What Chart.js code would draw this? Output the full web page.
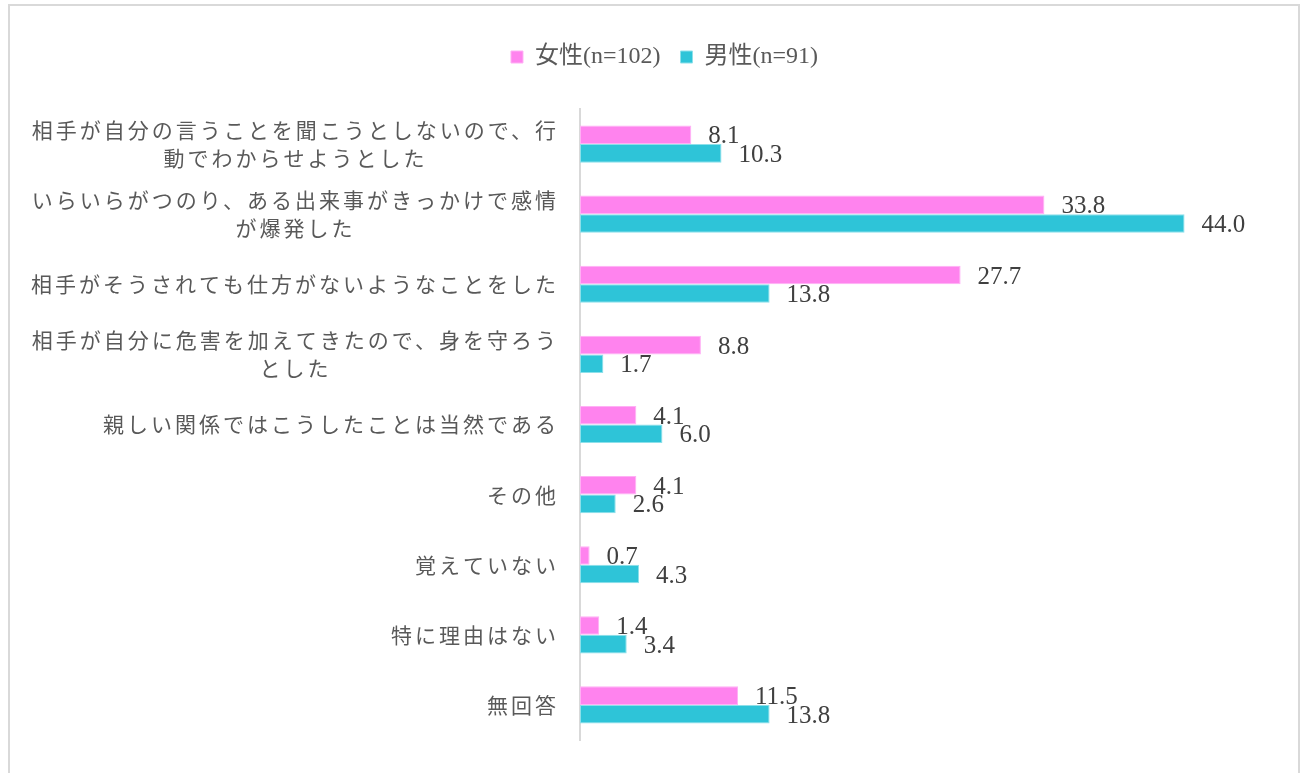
<!DOCTYPE html>
<html lang="ja">
<head>
<meta charset="utf-8">
<script src="https://cdn.jsdelivr.net/npm/chart.js@4"></script>
<style>
    html, body { margin: 0; padding: 0; background: #ffffff; overflow: hidden; }
    #wrap { width: 1301px; height: 773px; }
</style>
</head>
<body>
<div id="wrap"><canvas id="barchart" width="1301" height="773"></canvas></div>
<script>
// 項目（折り返し位置ごとに行を分ける）
var categories = [
    ['相手が自分の言うことを聞こうとしないので、行', '動でわからせようとした'],
    ['いらいらがつのり、ある出来事がきっかけで感情', 'が爆発した'],
    ['相手がそうされても仕方がないようなことをした'],
    ['相手が自分に危害を加えてきたので、身を守ろう', 'とした'],
    ['親しい関係ではこうしたことは当然である'],
    ['その他'],
    ['覚えていない'],
    ['特に理由はない'],
    ['無回答']
];
var seriesNames = ['女性(n=102)', '男性(n=91)'];
var femaleValues = [8.1, 33.8, 27.7, 8.8, 4.1, 4.1, 0.7, 1.4, 11.5];
var maleValues = [10.3, 44.0, 13.8, 1.7, 6.0, 2.6, 4.3, 3.4, 13.8];

var labelFont = '"Noto Sans CJK JP", "Noto Sans CJK SC", sans-serif';
var numFont = '"Liberation Serif", "DejaVu Serif", "Noto Sans CJK JP", serif';

// 外枠
var framePlugin = {
    id: 'frame',
    beforeDraw: function (chart) {
        var ctx = chart.ctx;
        ctx.save();
        ctx.fillStyle = '#ffffff';
        ctx.fillRect(0, 0, chart.width, chart.height);
        ctx.strokeStyle = '#d9d9d9';
        ctx.lineWidth = 2;
        ctx.strokeRect(9, 5, 1290, 820);
        ctx.restore();
    }
};

// 凡例の下に余白を足す
var legendGapPlugin = {
    id: 'legendGap',
    beforeInit: function (chart) {
        var fit = chart.legend.fit;
        chart.legend.fit = function () {
            fit.call(this);
            this.height += 30;
        };
    }
};

// 項目名（複数行は中央揃え、まとまりは軸の左に右寄せ）
var categoryLabelPlugin = {
    id: 'categoryLabels',
    afterDraw: function (chart) {
        var ctx = chart.ctx;
        var yScale = chart.scales.y;
        var spacing = 3;
        ctx.save();
        ctx.font = '21px ' + labelFont;
        ctx.letterSpacing = spacing + 'px';
        ctx.fillStyle = '#595959';
        ctx.textAlign = 'left';
        ctx.textBaseline = 'middle';
        chart.data.labels.forEach(function (lines, i) {
            var yc = yScale.getPixelForTick(i);
            var widths = lines.map(function (l) { return ctx.measureText(l).width - spacing; });
            var maxW = Math.max.apply(null, widths);
            var cx = chart.chartArea.left - 24 - maxW / 2;
            lines.forEach(function (l, j) {
                var y = yc + (j - (lines.length - 1) / 2) * 28;
                ctx.fillText(l, cx - widths[j] / 2, y);
            });
        });
        ctx.restore();
    }
};

// 棒の右に数値
var valueLabelPlugin = {
    id: 'valueLabels',
    afterDatasetsDraw: function (chart) {
        var ctx = chart.ctx;
        ctx.save();
        ctx.font = '25px ' + numFont;
        ctx.fillStyle = '#404040';
        ctx.textAlign = 'left';
        ctx.textBaseline = 'middle';
        chart.data.datasets.forEach(function (ds, di) {
            var meta = chart.getDatasetMeta(di);
            meta.data.forEach(function (bar, i) {
                ctx.fillText(ds.data[i].toFixed(1), bar.x + 17, bar.y + 2);
            });
        });
        ctx.restore();
    }
};

function initBarChart() {
    var canvas = document.getElementById('barchart');
    var barCtx = canvas.getContext('2d');

    var barChartConfig = {
        type: 'bar',
        data: {
            labels: categories,
            datasets: [{
                label: seriesNames[0],
                data: femaleValues,
                backgroundColor: '#ff83ee',
                borderColor: '#ffb0f5',
                borderWidth: 1,
                borderSkipped: false,
                barPercentage: 1,
                categoryPercentage: 0.53
            }, {
                label: seriesNames[1],
                data: maleValues,
                backgroundColor: '#2ec4d8',
                borderColor: '#8de0ea',
                borderWidth: 1,
                borderSkipped: false,
                barPercentage: 1,
                categoryPercentage: 0.53
            }]
        },
        options: {
            indexAxis: 'y',
            responsive: false,
            animation: false,
            layout: {
                padding: { top: 25, right: 34, bottom: 33, left: 62 }
            },
            plugins: {
                legend: {
                    position: 'top',
                    labels: {
                        boxWidth: 12,
                        boxHeight: 12,
                        padding: 20,
                        color: '#595959',
                        font: { family: numFont, size: 24 }
                    }
                },
                tooltip: { enabled: false }
            },
            scales: {
                x: {
                    display: false,
                    min: 0,
                    max: 50
                },
                y: {
                    afterFit: function (scale) { scale.width = 518; },
                    grid: { display: false },
                    border: { display: true, color: '#d9d9d9', width: 2 },
                    ticks: { display: false }
                }
            }
        },
        plugins: [framePlugin, legendGapPlugin, categoryLabelPlugin, valueLabelPlugin]
    };

    new Chart(barCtx, barChartConfig);
}

document.addEventListener('DOMContentLoaded', initBarChart);
</script>
</body>
</html>
